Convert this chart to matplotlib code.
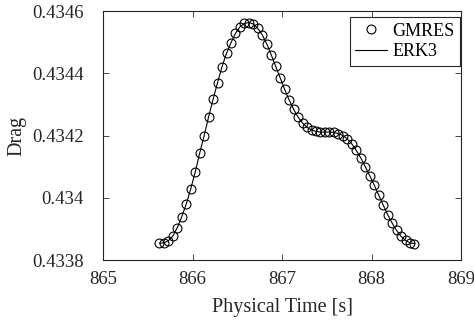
import numpy as np
import matplotlib
matplotlib.use("Agg")
import matplotlib.pyplot as plt

# Data
t_start = 865.63
t_step = 0.05
gmres_drag = [0.433854, 0.433855, 0.433862, 0.433877, 0.433904, 0.433939, 0.433980,
              0.434028, 0.434082, 0.434143, 0.434199, 0.434260, 0.434316, 0.434370,
              0.434421, 0.434464, 0.434498, 0.434528, 0.434549, 0.434560, 0.434563,
              0.434558, 0.434544, 0.434523, 0.434494, 0.434459, 0.434422, 0.434385,
              0.434348, 0.434314, 0.434284, 0.434259, 0.434240, 0.434226, 0.434218,
              0.434213, 0.434211, 0.434211, 0.434211, 0.434210, 0.434206, 0.434200,
              0.434189, 0.434173, 0.434152, 0.434128, 0.434100, 0.434071, 0.434041,
              0.434009, 0.433977, 0.433946, 0.433919, 0.433895, 0.433876, 0.433863,
              0.433855, 0.433853]
erk3_drag = list(gmres_drag)
time = [round(t_start + i * t_step, 4) for i in range(len(gmres_drag))]

x_ticks = [865, 866, 867, 868, 869]
y_ticks = [0.4338, 0.434, 0.4342, 0.4344, 0.4346]
y_ticklabels = ["0.4338", "0.434", "0.4342", "0.4344", "0.4346"]

plt.rcParams['font.family'] = ['Liberation Serif', 'DejaVu Serif']

W, H = 474, 323
fig = plt.figure(figsize=(W/100, H/100), dpi=100)
ax_l, ax_r, ax_t, ax_b = 103, 461, 11, 260
ax = fig.add_axes([ax_l/W, (H-ax_b)/H, (ax_r-ax_l)/W, (ax_b-ax_t)/H])

ax.plot(time, gmres_drag, linestyle='none', marker='o', markersize=6.4,
        markerfacecolor='none', markeredgecolor='black', markeredgewidth=0.8,
        label='GMRES')
ax.plot(time, erk3_drag, color='black', linewidth=0.8, label='ERK3')

ax.set_xlim(865, 869)
ax.set_ylim(0.4338, 0.4346)
ax.set_xticks(x_ticks)
ax.set_xticklabels([str(v) for v in x_ticks])
ax.set_yticks(y_ticks)
ax.set_yticklabels(y_ticklabels)

ax.tick_params(direction='in', top=True, right=True, length=4, width=0.6,
               labelsize=13.5, colors='#262626', labelcolor='#262626')
ax.tick_params(axis='y', pad=14)
ax.tick_params(axis='x', pad=8)
for s in ax.spines.values():
    s.set_linewidth(0.8)
    s.set_color('#262626')

ax.set_xlabel('Physical Time [s]', fontsize=14.5, color='#262626', labelpad=7)
ax.set_ylabel('Drag', fontsize=14.5, color='#262626', labelpad=4)

# legend anchored at its top-right corner (pixel position in the figure)
anchor = ((459.7 - ax_l) / (ax_r - ax_l), (ax_b - 17.3) / (ax_b - ax_t))
leg = ax.legend(loc='upper right', bbox_to_anchor=anchor, borderaxespad=0,
                fontsize=13, frameon=True, fancybox=False,
                edgecolor='#262626', framealpha=1, borderpad=0.3,
                handlelength=1.75, handletextpad=0.3, labelspacing=0.2)
leg.get_frame().set_linewidth(0.8)

fig.savefig('out.png', dpi=100)
